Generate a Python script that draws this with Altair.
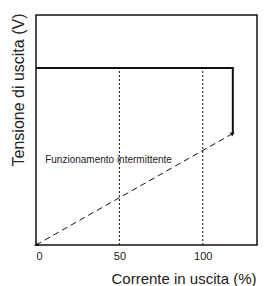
import altair as alt
import pandas as pd

# Data
solid_x = [0, 118, 118]
solid_y = [77, 77, 48.5]
dash_x = [0, 118]
dash_y = [0, 48.5]
grid_x = [50, 100]
grid_top = 77
tick_values = [0, 50, 100]
label_text = "Funzionamento intermittente"
label_x = 5.5
label_y = 35.5

X_DOMAIN = [0, 132.5]
Y_DOMAIN = [0, 100]

xs = alt.Scale(domain=X_DOMAIN, nice=False, zero=False)
ys = alt.Scale(domain=Y_DOMAIN, nice=False, zero=False)

x_axis = alt.Axis(values=tick_values, ticks=False, domain=False, grid=False,
                  labelFontSize=11, labelFont="Liberation Sans", labelColor="#222",
                  labelPadding=5, title="Corrente in uscita (%)",
                  titleFont="Liberation Sans", titleFontSize=15, titleFontWeight="normal",
                  titleColor="#222", titleAnchor="start", titleAlign="left",
                  titleBaseline="alphabetic", titleX=75, titleY=38)
y_axis = alt.Axis(labels=False, ticks=False, domain=False, grid=False,
                  title="Tensione di uscita (V)",
                  titleFont="Liberation Sans", titleFontSize=16, titleFontWeight="normal",
                  titleColor="#222", titleAngle=-90, titleAlign="right",
                  titleBaseline="alphabetic", titleX=-13, titleY=-2)

solid_df = pd.DataFrame({"x": solid_x, "y": solid_y, "o": range(len(solid_x))})
dash_df = pd.DataFrame({"x": dash_x, "y": dash_y})
grid_df = pd.DataFrame({"x": grid_x, "y": [0] * len(grid_x), "y2": [grid_top] * len(grid_x)})

base_x = alt.X("x:Q", scale=xs, axis=x_axis)
base_y = alt.Y("y:Q", scale=ys, axis=y_axis)

grid = alt.Chart(grid_df).mark_rule(color="#111", strokeWidth=1, strokeDash=[2, 2]).encode(
    x=alt.X("x:Q", scale=xs, axis=x_axis), y=alt.Y("y:Q", scale=ys, axis=y_axis), y2="y2:Q")

dashed = alt.Chart(dash_df).mark_line(color="#111", strokeWidth=1, strokeDash=[6, 4]).encode(
    x=base_x, y=base_y)

solid = alt.Chart(solid_df).mark_line(color="#111", strokeWidth=2).encode(
    x=base_x, y=base_y, order="o:Q")

arrow_df = pd.DataFrame({"x": dash_x, "y": dash_y, "a": [240.7, 60.7]})
arrows = alt.Chart(arrow_df).mark_point(shape="triangle-up", filled=True, color="#111",
                                        size=22, opacity=1).encode(
    x=base_x, y=base_y, angle=alt.Angle("a:Q", scale=None))

label_df = pd.DataFrame({"x": [label_x], "y": [label_y], "t": [label_text]})
label = alt.Chart(label_df).mark_text(align="left", baseline="alphabetic", fontSize=10,
                                      font="Liberation Sans", color="#222").encode(
    x=base_x, y=base_y, text="t:N")

chart = alt.layer(grid, dashed, solid, arrows, label).properties(
    width=221, height=230,
    autosize=alt.AutoSizeParams(type="none"),
    padding={"left": 28, "top": 7, "right": 1, "bottom": 41},
).configure(background="white").configure_view(stroke="#111", strokeWidth=1.5)

chart.save("out.html", embed_options={"renderer": "svg", "actions": False})
